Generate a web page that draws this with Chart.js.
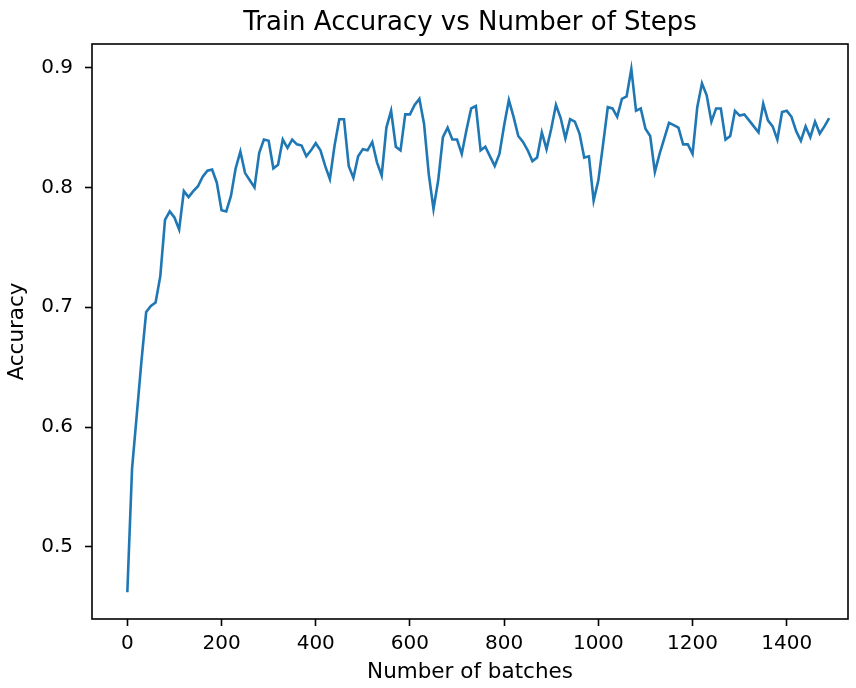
<!DOCTYPE html>
<html>
<head>
<meta charset="utf-8">
<script src="https://cdn.jsdelivr.net/npm/chart.js@4.4.1/dist/chart.umd.min.js"></script>
<style>
  html, body { margin: 0; padding: 0; background: #fff; }
  #wrap { width: 856px; height: 688px; }
</style>
</head>
<body>
<div id="wrap"><canvas id="accChart" width="856" height="688"></canvas></div>
<script>
// Chart data
const chartTitle = "Train Accuracy vs Number of Steps";

const steps = [
  0, 10, 20, 30, 40, 50, 60, 70, 80, 90,
  100, 110, 120, 130, 140, 150, 160, 170, 180, 190,
  200, 210, 220, 230, 240, 250, 260, 270, 280, 290,
  300, 310, 320, 330, 340, 350, 360, 370, 380, 390,
  400, 410, 420, 430, 440, 450, 460, 470, 480, 490,
  500, 510, 520, 530, 540, 550, 560, 570, 580, 590,
  600, 610, 620, 630, 640, 650, 660, 670, 680, 690,
  700, 710, 720, 730, 740, 750, 760, 770, 780, 790,
  800, 810, 820, 830, 840, 850, 860, 870, 880, 890,
  900, 910, 920, 930, 940, 950, 960, 970, 980, 990,
  1000, 1010, 1020, 1030, 1040, 1050, 1060, 1070, 1080, 1090,
  1100, 1110, 1120, 1130, 1140, 1150, 1160, 1170, 1180, 1190,
  1200, 1210, 1220, 1230, 1240, 1250, 1260, 1270, 1280, 1290,
  1300, 1310, 1320, 1330, 1340, 1350, 1360, 1370, 1380, 1390,
  1400, 1410, 1420, 1430, 1440, 1450, 1460, 1470, 1480, 1490
];

const accuracy = [
  0.462, 0.565, 0.610, 0.655, 0.696, 0.701, 0.704, 0.726, 0.773, 0.780,
  0.775, 0.765, 0.797, 0.792, 0.797, 0.801, 0.809, 0.814, 0.815, 0.804,
  0.781, 0.780, 0.793, 0.816, 0.830, 0.812, 0.806, 0.800, 0.829, 0.840,
  0.839, 0.816, 0.819, 0.840, 0.833, 0.840, 0.836, 0.835, 0.826, 0.831,
  0.837, 0.831, 0.818, 0.807, 0.835, 0.857, 0.857, 0.818, 0.808, 0.826,
  0.832, 0.831, 0.838, 0.821, 0.810, 0.850, 0.864, 0.834, 0.831, 0.861,
  0.861, 0.869, 0.874, 0.853, 0.811, 0.782, 0.806, 0.842, 0.850, 0.840,
  0.840, 0.828, 0.848, 0.866, 0.868, 0.831, 0.834, 0.826, 0.818, 0.828,
  0.852, 0.873, 0.859, 0.843, 0.838, 0.831, 0.822, 0.825, 0.846, 0.832,
  0.849, 0.869, 0.858, 0.841, 0.857, 0.855, 0.845, 0.825, 0.826, 0.789,
  0.806, 0.836, 0.867, 0.866, 0.859, 0.874, 0.876, 0.899, 0.864, 0.866,
  0.849, 0.843, 0.813, 0.828, 0.841, 0.854, 0.852, 0.850, 0.836, 0.836,
  0.828, 0.867, 0.887, 0.877, 0.855, 0.866, 0.866, 0.840, 0.843, 0.864,
  0.860, 0.861, 0.856, 0.851, 0.846, 0.870, 0.856, 0.851, 0.840, 0.863,
  0.864, 0.859, 0.847, 0.839, 0.851, 0.842, 0.855, 0.845, 0.851, 0.858
];

const xTicks = [0, 200, 400, 600, 800, 1000, 1200, 1400];
const yTicks = [0.5, 0.6, 0.7, 0.8, 0.9];

const fontFamily = '"DejaVu Sans", "Liberation Sans", sans-serif';

// frame around the plot + title centered over the axes
const framePlugin = {
    id: 'frame',
    afterDraw(chart) {
        const { ctx, chartArea: a } = chart;
        ctx.save();
        ctx.strokeStyle = '#000';
        ctx.lineWidth = 1.6;
        ctx.strokeRect(a.left, a.top, a.right - a.left, a.bottom - a.top);
        ctx.fillStyle = '#000';
        ctx.font = '26px ' + fontFamily;
        ctx.textAlign = 'center';
        ctx.textBaseline = 'alphabetic';
        ctx.fillText(chartTitle, (a.left + a.right) / 2, 30);
        ctx.restore();
    }
};

const ctx = document.getElementById('accChart').getContext('2d');

const accChart = new Chart(ctx, {
    type: 'line',
    data: {
        datasets: [{
            label: 'Accuracy',
            data: steps.map((s, i) => ({ x: s, y: accuracy[i] })),
            borderColor: '#1f77b4',
            borderWidth: 2.6,
            pointRadius: 0,
            fill: false,
            tension: 0
        }]
    },
    options: {
        responsive: false,
        animation: false,
        layout: { padding: { top: 44, right: 8, bottom: 0, left: 0 } },
        plugins: {
            legend: { display: false },
            tooltip: { enabled: false }
        },
        scales: {
            x: {
                type: 'linear',
                min: -75,
                max: 1530,
                afterFit: (scale) => { scale.height = 69; },
                afterBuildTicks: (scale) => { scale.ticks = xTicks.map(v => ({ value: v })); },
                grid: { drawOnChartArea: false, drawTicks: true, tickLength: 7, tickColor: '#000', tickWidth: 1.6 },
                border: { display: false },
                ticks: {
                    color: '#000',
                    font: { family: fontFamily, size: 20 },
                    padding: 6,
                    maxRotation: 0,
                    callback: (v) => String(v)
                },
                title: {
                    display: true,
                    text: 'Number of batches',
                    color: '#000',
                    font: { family: fontFamily, size: 21.5 },
                    padding: { top: 0, bottom: 3 }
                }
            },
            y: {
                min: 0.4397,
                max: 0.9198,
                afterFit: (scale) => { scale.width = 92; },
                afterBuildTicks: (scale) => { scale.ticks = yTicks.map(v => ({ value: v })); },
                grid: { drawOnChartArea: false, drawTicks: true, tickLength: 7, tickColor: '#000', tickWidth: 1.6 },
                border: { display: false },
                ticks: {
                    color: '#000',
                    font: { family: fontFamily, size: 20 },
                    padding: 12,
                    callback: (v) => v.toFixed(1)
                },
                title: {
                    display: true,
                    text: 'Accuracy',
                    color: '#000',
                    font: { family: fontFamily, size: 21.5 },
                    padding: { top: 5, bottom: 0 }
                }
            }
        }
    },
    plugins: [framePlugin]
});
</script>
</body>
</html>
